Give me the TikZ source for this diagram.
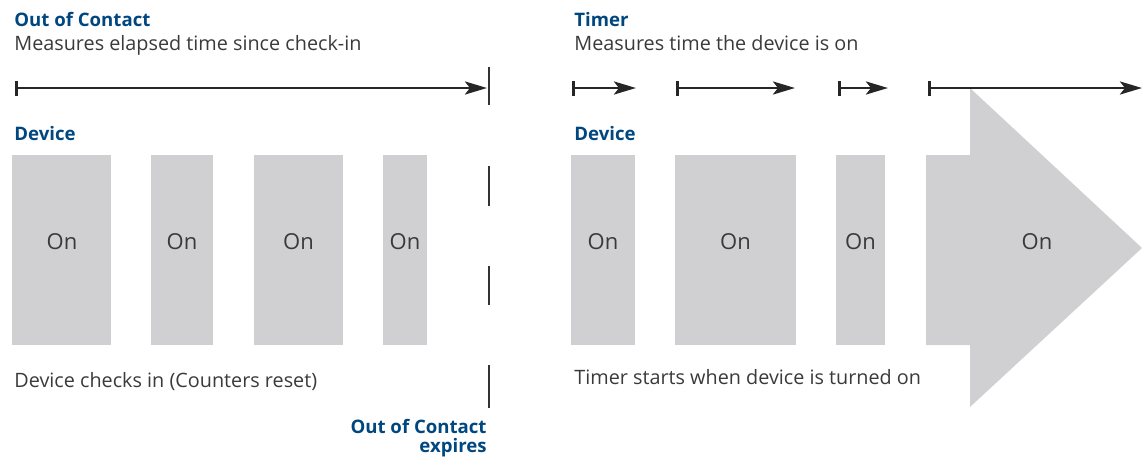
\documentclass[tikz,border=0pt]{standalone}
\usepackage{fontspec}
\setmainfont{Open Sans}
\usetikzlibrary{arrows.meta}
\definecolor{titleblue}{HTML}{00467F}
\definecolor{boxgray}{HTML}{D0D0D2}
\definecolor{txtgray}{HTML}{3A3A3A}
\tikzset{
  title/.style={anchor=base west, inner sep=0pt, font=\fontsize{9.3}{10}\selectfont\bfseries, text=titleblue},
  body/.style={anchor=base west, inner sep=0pt, font=\fontsize{9.9}{11}\selectfont, text=txtgray},
  onbox/.style={fill=boxgray, draw=none, inner sep=0pt},
  onlabel/.style={inner sep=0pt, font=\fontsize{11}{12}\selectfont, text=txtgray},
  span/.style={line width=1.45pt, draw=black!85, {Bar[width=7.5pt,line width=1.45pt]}-{Stealth[length=11pt,width=6.5pt,inset=2.5pt]}},
  marker/.style={line width=0.6pt, draw=black!80}
}
\begin{document}
\begin{tikzpicture}[x=0.5pt,y=-0.5pt]
\useasboundingbox (0,0) rectangle (1142,462);
% left panel texts
\node[title] (t1) at (14,26) {Out of Contact};
\node[body] (s1) at (14,50) {Measures elapsed time since check-in};
\node[title] (d1) at (14,140) {Device};
\node[body] (c1) at (14,387) {Device checks in (Counters reset)};
\node[title, anchor=base east, align=right] (e1) at (487,433) {Out of Contact};
\node[title, anchor=base east, align=right] (e2) at (487,452) {expires};
% left arrow
\coordinate (a1s) at (15,88);
\coordinate (a1e) at (487,88);
\draw[span] (a1s) -- (a1e);
% left boxes
\node[onbox, minimum width=49.5pt, minimum height=95pt] (b1) at (61.5,250) {};
\node[onbox, minimum width=31pt, minimum height=95pt] (b2) at (182,250) {};
\node[onbox, minimum width=44.5pt, minimum height=95pt] (b3) at (298.5,250) {};
\node[onbox, minimum width=22pt, minimum height=95pt] (b4) at (405,250) {};
\node[onlabel] (l1) at (62,242) {On};
\node[onlabel] (l2) at (182,242) {On};
\node[onlabel] (l3) at (298.5,242) {On};
\node[onlabel] (l4) at (405,242) {On};
% expiry marker segments
\coordinate (m1a) at (489,67);  \coordinate (m1b) at (489,105);
\coordinate (m2a) at (489,166); \coordinate (m2b) at (489,206);
\coordinate (m3a) at (489,266); \coordinate (m3b) at (489,305);
\coordinate (m4a) at (489,365); \coordinate (m4b) at (489,408);
\draw[marker] (m1a) -- (m1b);
\draw[marker] (m2a) -- (m2b);
\draw[marker] (m3a) -- (m3b);
\draw[marker] (m4a) -- (m4b);
% right panel texts
\node[title] (t2) at (574,26) {Timer};
\node[body] (s2) at (574,50) {Measures time the device is on};
\node[title] (d2) at (574,140) {Device};
% big arrow
\fill[boxgray] (926,155) -- (970,155) -- (970,88) -- (1142,248) -- (970,407) -- (970,345) -- (926,345) -- cycle;
\node[body] (c2) at (574,384) {Timer starts when device is turned on};
% right boxes
\node[onbox, minimum width=32pt, minimum height=95pt] (r1) at (603,250) {};
\node[onbox, minimum width=60.5pt, minimum height=95pt] (r2) at (735.5,250) {};
\node[onbox, minimum width=24.5pt, minimum height=95pt] (r3) at (860.5,250) {};
\node[onlabel] (rl1) at (603,242) {On};
\node[onlabel] (rl2) at (735.5,242) {On};
\node[onlabel] (rl3) at (860.5,242) {On};
\node[onlabel] (rl4) at (1037,242) {On};
% timer arrows
\coordinate (p1s) at (572,88); \coordinate (p1e) at (636,88);
\coordinate (p2s) at (676,88); \coordinate (p2e) at (795,88);
\coordinate (p3s) at (838,88); \coordinate (p3e) at (888,88);
\coordinate (p4s) at (928,88); \coordinate (p4e) at (1142,88);
\draw[span] (p1s) -- (p1e);
\draw[span] (p2s) -- (p2e);
\draw[span] (p3s) -- (p3e);
\draw[span] (p4s) -- (p4e);
\end{tikzpicture}
\end{document}
